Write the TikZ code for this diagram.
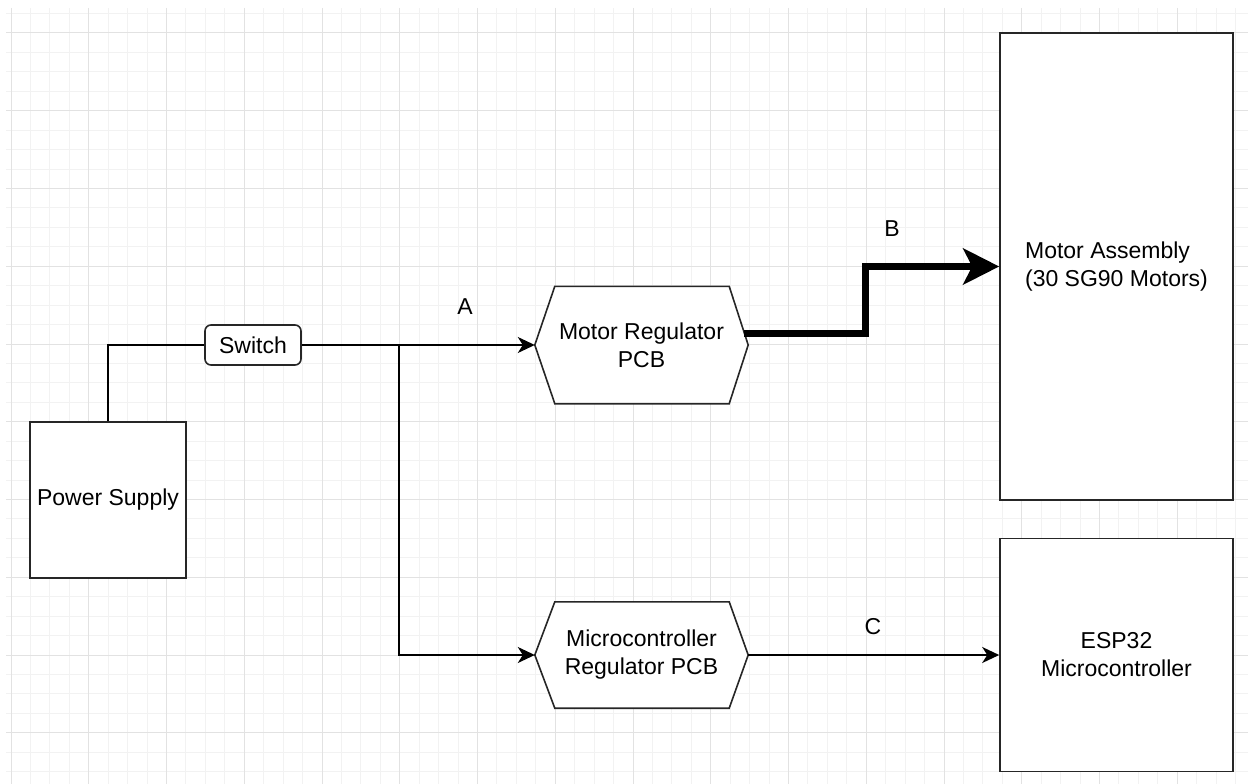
\documentclass[tikz,border=0pt]{standalone}
\usepackage{fontspec}
\setmainfont{Liberation Sans}
\usetikzlibrary{arrows.meta,calc,backgrounds}
\definecolor{minorgray}{HTML}{F2F2F2}
\definecolor{majorgray}{HTML}{E2E2E2}
\definecolor{edgegray}{HTML}{262626}
\begin{document}
\begin{tikzpicture}[x=1pt,y=-1pt,font=\fontsize{23}{28}\selectfont, line join=miter,
	block/.style={draw=edgegray,line width=1.6pt,fill=white,inner sep=0pt,align=center},
	hexbox/.style={inner sep=0pt,align=center},
	hexline/.style={draw=edgegray,line width=1.6pt,fill=white},
	wire/.style={line width=1.8pt,-{Stealth[length=17pt,width=16pt,inset=5pt]}},
	plainwire/.style={line width=1.8pt},
	powerwire/.style={line width=7pt,-{Stealth[length=36pt,width=36pt,inset=9pt]}}]
	\useasboundingbox (0,0) rectangle (1248,784);
					% blocks
					\node[block,minimum width=156pt,minimum height=156pt] (psu) at (108,500) {Power Supply};
					\node[block,rounded corners=6pt,minimum width=96pt,minimum height=40pt] (switch) at (253,345) {Switch};
					\node[hexbox,minimum width=213pt,minimum height=117pt] (mreg) at (641.5,345) {Motor Regulator\\PCB};
					\node[hexbox,minimum width=213pt,minimum height=106pt] (creg) at (641.5,655) {Microcontroller\\Regulator PCB};
					\node[block,minimum width=233pt,minimum height=467pt,align=left] (motor) at (1116.5,266.5) {Motor Assembly\\(30 SG90 Motors)};
					\node[block,minimum width=233pt,minimum height=233pt] (esp) at (1116.5,655) {ESP32\\Microcontroller};
					% labels
					\node (la) at (465,307) {A};
					\node (lb) at (892,229) {B};
					\node (lc) at (873,627) {C};
					% connectors
					\coordinate (J) at (399,345);
					\coordinate (mout) at ($(mreg.east)+(-4,-12)$);
					\coordinate (bend) at (865,266.5);
					\draw[plainwire] (psu.north) |- (switch.west);
					\draw[wire] (switch.east) -- (mreg.west);
					\draw[wire] (J) |- (creg.west);
					\draw[wire] (creg.east) -- (esp.west);
					\draw[powerwire] (mout) -| (bend) -- (motor.west);
					% grid and hexagons
					\begin{scope}[on background layer]
						\foreach \i in {0,...,63} \draw[minorgray,line width=1pt] ({11+19.4375*\i},8) -- ({11+19.4375*\i},784);
						\foreach \j in {0,...,39} \draw[minorgray,line width=1pt] (6,{13.56+19.4375*\j}) -- (1248,{13.56+19.4375*\j});
						\foreach \i in {0,...,15} \draw[majorgray,line width=1pt] ({11+77.75*\i},8) -- ({11+77.75*\i},784);
						\foreach \j in {0,...,9} \draw[majorgray,line width=1pt] (6,{33+77.75*\j}) -- (1248,{33+77.75*\j});
						\foreach \n in {mreg,creg}
							\draw[hexline] ([xshift=20pt]\n.north west) -- ([xshift=-19pt]\n.north east) -- (\n.east) -- ([xshift=-19pt]\n.south east) -- ([xshift=20pt]\n.south west) -- (\n.west) -- cycle;
					\end{scope}
\end{tikzpicture}
\end{document}
